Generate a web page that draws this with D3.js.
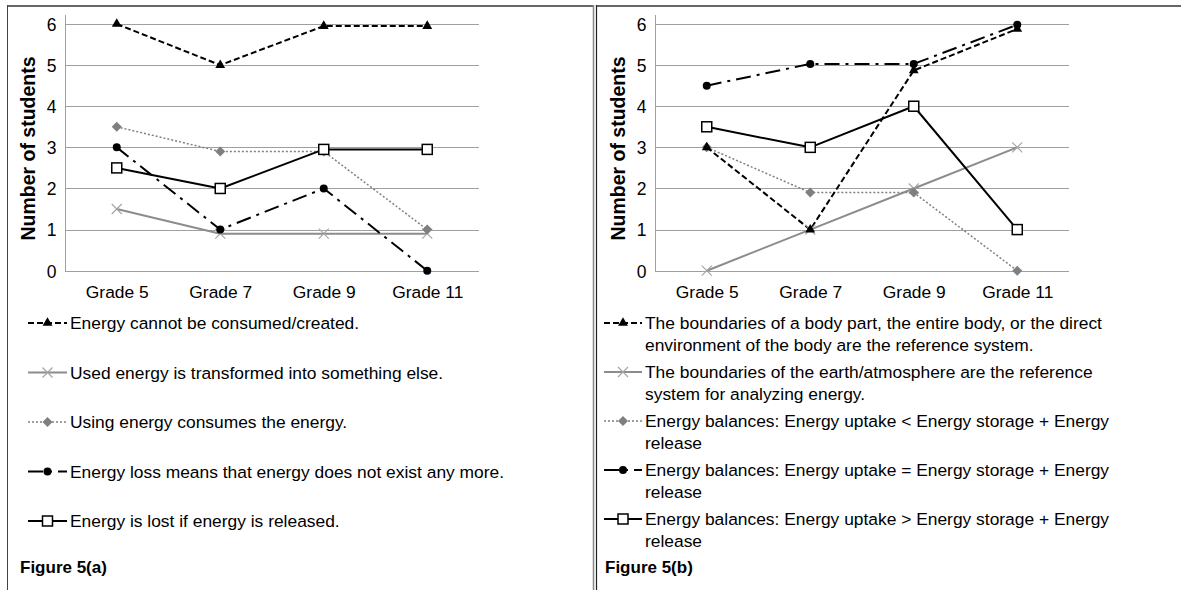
<!DOCTYPE html>
<html><head><meta charset="utf-8">
<script src="https://cdn.jsdelivr.net/npm/d3@7/dist/d3.min.js"></script>
<style>body{margin:0;background:#fff}svg{display:block;font-family:"Liberation Sans",Arial,sans-serif}</style>
</head><body>
<svg id="c" width="1181" height="590"></svg>
<script>
const categories = ["Grade 5","Grade 7","Grade 9","Grade 11"];
const yTicks = [0,1,2,3,4,5,6];

// Figure 5(a)
const aTriangle = [6, 5, 5.95, 5.95];
const aCross    = [1.5, 0.9, 0.9, 0.9];
const aDiamond  = [3.5, 2.9, 2.9, 1.0];
const aCircle   = [3, 1, 2, 0];
const aSquare   = [2.5, 2, 2.95, 2.95];
const aLabels = [
  ["Energy cannot be consumed/created."],
  ["Used energy is transformed into something else."],
  ["Using energy consumes the energy."],
  ["Energy loss means that energy does not exist any more."],
  ["Energy is lost if energy is released."]
];

// Figure 5(b)
const bTriangle = [3, 1, 4.87, 5.88];
const bCross    = [0, 1, 2, 3];
const bDiamond  = [3, 1.9, 1.9, 0];
const bCircle   = [4.5, 5.03, 5.03, 5.98];
const bSquare   = [3.5, 3, 4, 1];
const bLabels = [
  ["The boundaries of a body part, the entire body, or the direct","environment of the body are the reference system."],
  ["The boundaries of the earth/atmosphere are the reference","system for analyzing energy."],
  ["Energy balances: Energy uptake < Energy storage + Energy","release"],
  ["Energy balances: Energy uptake = Energy storage + Energy","release"],
  ["Energy balances: Energy uptake > Energy storage + Energy","release"]
];

const styles = [
  {marker:"triangle", color:"#000", width:2, dash:"6,3"},
  {marker:"cross", color:"#8c8c8c", width:2, dash:null},
  {marker:"diamond", color:"#808080", width:1.5, dash:"2,2"},
  {marker:"circle", color:"#000", width:2, dash:"15,6,3,6"},
  {marker:"square", color:"#000", width:2, dash:null}
];

const FS = 17.4;
const svg = d3.select("#c");

function drawMarker(g, type, x, y) {
  if (type === "triangle") {
    g.append("path").attr("d", d3.symbol(d3.symbolTriangle, 42)()).attr("transform",`translate(${x},${y})`).attr("fill","#000");
  } else if (type === "cross") {
    g.append("path").attr("d", `M${x-5},${y-5}L${x+5},${y+5}M${x-5},${y+5}L${x+5},${y-5}`).attr("stroke","#a6a6a6").attr("stroke-width",1.2).attr("fill","none");
  } else if (type === "diamond") {
    g.append("path").attr("d", `M${x},${y-5}L${x+5},${y}L${x},${y+5}L${x-5},${y}Z`).attr("fill","#7f7f7f");
  } else if (type === "circle") {
    g.append("circle").attr("cx",x).attr("cy",y).attr("r",4).attr("fill","#000");
  } else if (type === "square") {
    g.append("rect").attr("x",x-5).attr("y",y-5).attr("width",10).attr("height",10).attr("fill","#fff").attr("stroke","#000").attr("stroke-width",1.5);
  }
}

function drawPanel(ox, series, labels, figTitle, legendCfg) {
  const g = svg.append("g");
  const x = d3.scalePoint().domain(categories).range([ox+65, ox+479]).padding(0.5);
  const y = d3.scaleLinear().domain([0,6]).range([270.7, 24]);

  // grid
  g.append("g").selectAll("line").data(yTicks).join("line")
    .attr("x1", ox+65).attr("x2", ox+479)
    .attr("y1", d=>Math.round(y(d))+0.5).attr("y2", d=>Math.round(y(d))+0.5)
    .attr("stroke","#a0a0a0").attr("stroke-width",1);
  // y axis
  const ya = g.append("g").attr("transform",`translate(${ox+65.5},0)`)
    .call(d3.axisLeft(y).tickValues(yTicks).tickSize(0).tickPadding(9).tickFormat(d3.format("d")));
  ya.attr("font-size",null).attr("font-family",null);
  ya.select(".domain").attr("stroke","#a0a0a0").attr("d",`M0,15V${Math.round(y(0))+0.5}`);
  ya.selectAll("text").attr("font-size",17.5).attr("fill","#000").attr("dy","0.36em");
  // x axis labels
  const xa = g.append("g").attr("transform",`translate(0,${y(0)})`)
    .call(d3.axisBottom(x).tickSize(0).tickPadding(15));
  xa.attr("font-size",null).attr("font-family",null);
  xa.select(".domain").remove();
  xa.selectAll("text").attr("font-size",FS).attr("fill","#000");

  // y title
  g.append("text").attr("transform",`translate(${ox+35},${148.5}) rotate(-90)`)
    .attr("text-anchor","middle").attr("font-weight","bold").attr("font-size",19.5).text("Number of students");

  // series
  const line = d3.line().x((d,i)=>x(categories[i])).y(d=>y(d));
  const order = [1,2,0,3,4];
  order.forEach(si=>{
    const st = styles[si];
    g.append("path").attr("d", line(series[si])).attr("fill","none")
      .attr("stroke", st.color).attr("stroke-width", st.width)
      .attr("stroke-dasharray", st.dash).attr("stroke-linejoin","round");
  });
  order.forEach(si=>{
    series[si].forEach((v,i)=>drawMarker(g, styles[si].marker, x(categories[i]), y(v)));
  });

  // legend
  labels.forEach((lines, i)=>{
    const ly = legendCfg.y0 + i*legendCfg.step;
    const st = styles[i];
    g.append("line").attr("x1", ox+legendCfg.lx0).attr("x2", ox+legendCfg.lx1).attr("y1", ly).attr("y2", ly)
      .attr("stroke", st.color).attr("stroke-width", st.width).attr("stroke-dasharray", st.dash);
    drawMarker(g, st.marker, ox+(legendCfg.lx0+legendCfg.lx1)/2, ly);
    lines.forEach((t,j)=>{
      g.append("text").attr("x", ox+legendCfg.tx).attr("y", ly + j*legendCfg.lineH).attr("dy","0.36em")
        .attr("font-size",FS).attr("fill","#000").text(t);
    });
  });

  g.append("text").attr("x", ox+legendCfg.fx).attr("y", 573).attr("font-weight","bold").attr("font-size",17).text(figTitle);
}

drawPanel(0, [aTriangle,aCross,aDiamond,aCircle,aSquare], aLabels, "Figure 5(a)",
  {y0:323, step:49.5, lx0:28, lx1:67, tx:70, lineH:22, fx:20});
drawPanel(590, [bTriangle,bCross,bDiamond,bCircle,bSquare], bLabels, "Figure 5(b)",
  {y0:323, step:49, lx0:14, lx1:52, tx:55, lineH:22, fx:15});

// borders
svg.append("line").attr("x1",7).attr("x2",594).attr("y1",6).attr("y2",6).attr("stroke","#666").attr("stroke-width",2);
svg.append("line").attr("x1",597).attr("x2",1181).attr("y1",6).attr("y2",6).attr("stroke","#666").attr("stroke-width",2);
svg.append("line").attr("x1",7.5).attr("x2",7.5).attr("y1",5).attr("y2",590).attr("stroke","#444").attr("stroke-width",1);
svg.append("line").attr("x1",593.5).attr("x2",593.5).attr("y1",5).attr("y2",590).attr("stroke","#888").attr("stroke-width",1.5);
svg.append("line").attr("x1",596.5).attr("x2",596.5).attr("y1",5).attr("y2",590).attr("stroke","#222").attr("stroke-width",1.2);
</script>
</body></html>
